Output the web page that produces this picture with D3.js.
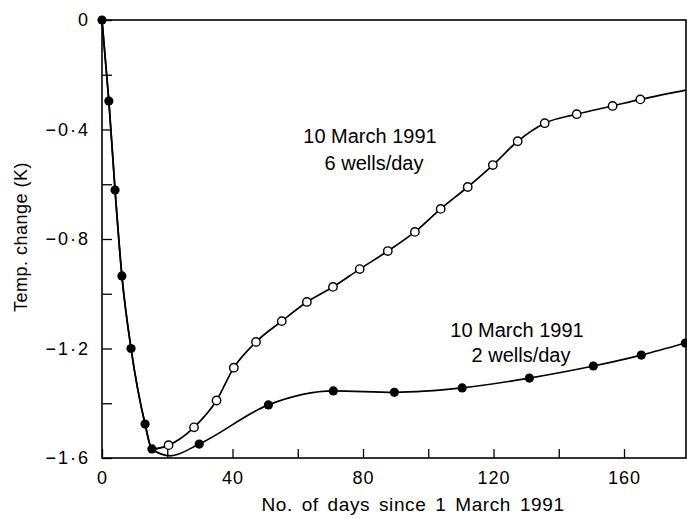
<!DOCTYPE html>
<html>
<head>
<meta charset="utf-8">
<script src="https://cdn.jsdelivr.net/npm/d3@7"></script>
<style>
  html, body { margin: 0; padding: 0; background: #fff; }
  svg { display: block; font-family: "Liberation Sans", Arial, sans-serif; }
</style>
</head>
<body>
<svg id="chart" width="687" height="518"></svg>
<script>
// ---- Data ----
// 2 wells/day (filled circles)
const filledDays  = [0, 2.1, 4.0, 6.1, 8.9, 13.2, 15.3, 29.8, 51.0, 70.9, 89.6, 110.4, 131.0, 150.6, 165.3, 178.8];
const filledTemps = [0, -0.296, -0.621, -0.935, -1.200, -1.476, -1.567, -1.549, -1.406, -1.355, -1.360, -1.344, -1.308, -1.264, -1.224, -1.180];
// extra point traced on the smooth curve (its minimum between markers)
const filledCurveDays  = [21.0];
const filledCurveTemps = [-1.592];

// 6 wells/day (open circles)
const openDays  = [20.4, 28.2, 35.1, 40.4, 47.2, 55.1, 62.8, 70.8, 79.0, 87.6, 95.9, 103.8, 112.1, 119.8, 127.4, 135.7, 145.5, 156.5, 165.0];
const openTemps = [-1.553, -1.488, -1.390, -1.270, -1.176, -1.100, -1.030, -0.975, -0.910, -0.844, -0.774, -0.690, -0.610, -0.530, -0.443, -0.377, -0.344, -0.314, -0.290];
// curve end at the right frame (no marker)
const openCurveEndDay  = [179];
const openCurveEndTemp = [-0.256];

const xTicks = [0, 20, 40, 60, 80, 100, 120, 140, 160];
const xLabelled = [0, 40, 80, 120, 160];
const yTicks = [0, -0.2, -0.4, -0.6, -0.8, -1.0, -1.2, -1.4, -1.6];
const yLabelled = [0, -0.4, -0.8, -1.2, -1.6];

const xTitle = "No. of days since 1 March 1991";
const yTitle = "Temp. change (K)";
const note6 = ["10 March 1991", "6 wells/day"];
const note2 = ["10 March 1991", "2 wells/day"];

// ---- Drawing ----
const svg = d3.select("#chart");
const x = d3.scaleLinear().domain([0, 179]).range([102, 686]);
const y = d3.scaleLinear().domain([0, -1.6]).range([20, 458]);

const filledPts = filledDays.map((d, i) => ({day: d, temp: filledTemps[i]}));
const openPts = openDays.map((d, i) => ({day: d, temp: openTemps[i]}));

const filledLine = filledPts.concat(filledCurveDays.map((d, i) => ({day: d, temp: filledCurveTemps[i]})))
  .sort((a, b) => a.day - b.day);
const openLine = filledPts.filter(p => p.day <= 15.3)
  .concat(openPts)
  .concat(openCurveEndDay.map((d, i) => ({day: d, temp: openCurveEndTemp[i]})));

const fmtY = d => d === 0 ? "0" : "\u2212" + Math.abs(d).toFixed(1).replace(".", "\u00B7");

// axes
const xAxis = d3.axisBottom(x).tickValues(xTicks).tickSize(-9).tickPadding(13)
  .tickFormat(d => xLabelled.includes(d) ? d : "");
const gx = svg.append("g").attr("transform", `translate(0,${y(-1.6)})`).call(xAxis);
gx.select(".domain").remove();
gx.selectAll("line").attr("stroke", "#000").attr("stroke-width", 1.3);
gx.selectAll("text").attr("font-size", 18).attr("fill", "#000").attr("letter-spacing", 1);

const yAxis = d3.axisLeft(y).tickValues(yTicks).tickSize(-10).tickPadding(12)
  .tickFormat(d => yLabelled.some(v => Math.abs(v - d) < 1e-9) ? fmtY(d) : "");
const gy = svg.append("g").attr("transform", `translate(${x(0)},0)`).call(yAxis);
gy.select(".domain").remove();
gy.selectAll("line").attr("stroke", "#000").attr("stroke-width", 1.3);
gy.selectAll("text").attr("font-size", 18).attr("fill", "#000").attr("letter-spacing", 2);

// frame
svg.append("rect")
  .attr("x", x(0)).attr("y", y(0))
  .attr("width", x(179) - x(0)).attr("height", y(-1.6) - y(0))
  .attr("fill", "none").attr("stroke", "#000").attr("stroke-width", 1.6);

// curves
const line = d3.line().x(d => x(d.day)).y(d => y(d.temp)).curve(d3.curveMonotoneX);
svg.append("path").datum(filledLine).attr("d", line)
  .attr("fill", "none").attr("stroke", "#000").attr("stroke-width", 1.7);
svg.append("path").datum(openLine).attr("d", line)
  .attr("fill", "none").attr("stroke", "#000").attr("stroke-width", 1.7);

// markers
svg.append("g").selectAll("circle").data(openPts).join("circle")
  .attr("cx", d => x(d.day)).attr("cy", d => y(d.temp)).attr("r", 4.2)
  .attr("fill", "#fff").attr("stroke", "#000").attr("stroke-width", 1.4);
svg.append("g").selectAll("circle").data(filledPts).join("circle")
  .attr("cx", d => x(d.day)).attr("cy", d => y(d.temp)).attr("r", 4.6)
  .attr("fill", "#000");

// titles
svg.append("text").attr("x", 413).attr("y", 511).attr("text-anchor", "middle")
  .attr("font-size", 19).attr("letter-spacing", 0.6).attr("word-spacing", 3).attr("fill", "#000").text(xTitle);
svg.append("text").attr("transform", "translate(27,237) rotate(-90)").attr("text-anchor", "middle")
  .attr("font-size", 18).attr("letter-spacing", 0.5).attr("fill", "#000").text(yTitle);

// annotations
function note(lines, cx, cy1, cy2) {
  svg.append("text").attr("x", cx).attr("y", cy1).attr("text-anchor", "middle")
    .attr("font-size", 20).attr("fill", "#000").attr("dominant-baseline", "central").text(lines[0]);
  svg.append("text").attr("x", cx + 4).attr("y", cy2).attr("text-anchor", "middle")
    .attr("font-size", 20).attr("fill", "#000").attr("dominant-baseline", "central").text(lines[1]);
}
note(note6, 370, 136, 163);
note(note2, 517, 330, 355);
</script>
</body>
</html>
